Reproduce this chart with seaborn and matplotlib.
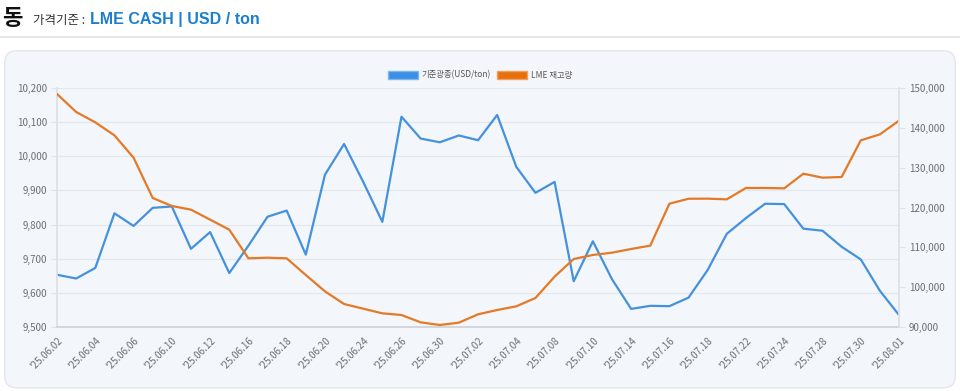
import matplotlib.pyplot as plt
import pandas as pd
import seaborn as sns
from matplotlib.patches import FancyBboxPatch, Patch
from matplotlib.lines import Line2D

DATES = [
    "25.06.02", "25.06.03", "25.06.04", "25.06.05", "25.06.06",
    "25.06.09", "25.06.10", "25.06.11", "25.06.12", "25.06.13",
    "25.06.16", "25.06.17", "25.06.18", "25.06.19", "25.06.20",
    "25.06.23", "25.06.24", "25.06.25", "25.06.26", "25.06.27",
    "25.06.30", "25.07.01", "25.07.02", "25.07.03", "25.07.04",
    "25.07.07", "25.07.08", "25.07.09", "25.07.10", "25.07.11",
    "25.07.14", "25.07.15", "25.07.16", "25.07.17", "25.07.18",
    "25.07.21", "25.07.22", "25.07.23", "25.07.24", "25.07.25",
    "25.07.28", "25.07.29", "25.07.30", "25.07.31", "25.08.01",
]
PRICE = [
    9653, 9642, 9673, 9833, 9796, 9849, 9853, 9729, 9778, 9658,
    9738, 9823, 9841, 9712, 9946, 10036, 9925, 9808, 10116, 10052,
    10041, 10061, 10047, 10121, 9969, 9893, 9925, 9634, 9751, 9640,
    9553, 9562, 9561, 9586, 9667, 9773, 9819, 9861, 9860, 9788,
    9782, 9735, 9698, 9606, 9535,
]
STOCK = [
    148500, 143980, 141380, 138120, 132510, 122390, 120380, 119460, 116950, 114440,
    107240, 107400, 107240, 103050, 98950, 95770, 94600, 93430, 93010, 91170,
    90500, 91090, 93180, 94270, 95190, 97280, 102640, 107070, 108080, 108660,
    109580, 110420, 120960, 122200, 122220, 122050, 124900, 124900, 124810, 128490,
    127490, 127660, 136860, 138370, 141800,
]
LABEL_PRICE = "기준광종(USD/ton)"
LABEL_STOCK = "LME 재고량"

BLUE = "#4592dc"
ORANGE = "#e47a27"
TICK_COLOR = "#6b6f75"

sns.set_theme(style="white")
plt.rcParams["font.family"] = ["Noto Sans CJK KR", "DejaVu Sans"]

df = pd.DataFrame({"date": DATES, "price": PRICE, "stock": STOCK})
df["i"] = range(len(df))

fig = plt.figure(figsize=(9.6, 3.91), dpi=100)
fig.patch.set_facecolor("white")

# header
fig.text(0.002, 0.952, "동", fontsize=16, fontweight="bold", color="#111111", va="center")
fig.text(0.034, 0.948, "가격기준 :", fontsize=9, color="#333333", va="center")
fig.text(0.094, 0.950, "LME CASH | USD / ton", fontsize=11.5, fontweight="bold",
         color="#1b7fcf", va="center", family=["Liberation Sans", "DejaVu Sans"])
fig.add_artist(Line2D([0, 1], [0.905, 0.905], color="#e2e4e8", lw=1.2))

# panel
panel = FancyBboxPatch((0.005, 0.008), 0.990, 0.862, boxstyle="round,pad=0,rounding_size=0.012",
                       transform=fig.transFigure, facecolor="#f3f6fa", edgecolor="#e3e7ec",
                       lw=1, zorder=0, mutation_aspect=2.4)
fig.add_artist(panel)

ax = fig.add_axes([0.0594, 0.1637, 0.8771, 0.6112])
ax.set_facecolor("none")
ax2 = ax.twinx()

sns.lineplot(data=df, x="i", y="price", ax=ax, color=BLUE, lw=1.6)
sns.lineplot(data=df, x="i", y="stock", ax=ax2, color=ORANGE, lw=1.6)

ax.set_xlim(0, len(df) - 1)
ax.set_ylim(9500, 10200)
ax2.set_ylim(90000, 150000)
ax.set_yticks(range(9500, 10201, 100))
ax2.set_yticks(range(90000, 150001, 10000))
ax.set_yticklabels([f"{v:,}" for v in range(9500, 10201, 100)])
ax2.set_yticklabels([f"{v:,}" for v in range(90000, 150001, 10000)])
ax.set_xticks(df["i"][::2])
ax.set_xticklabels(["'" + d for d in df["date"][::2]], rotation=45, ha="right",
                   rotation_mode="anchor")

ax.grid(axis="y", color="#e4e7eb", lw=0.9)
ax.set_axisbelow(True)
for a in (ax, ax2):
    a.set_xlabel("")
    a.set_ylabel("")
    for s in a.spines.values():
        s.set_visible(False)
    a.tick_params(axis="both", labelsize=7, colors=TICK_COLOR, length=4, width=0.8, pad=3)
ax.tick_params(axis="x", length=0, pad=6)
ax.tick_params(axis="y", color="#e0e3e8")
ax2.tick_params(axis="y", color="#e0e3e8")
ax.spines["left"].set_visible(True)
ax.spines["left"].set_color("#dde1e6")
ax.spines["bottom"].set_visible(True)
ax.spines["bottom"].set_color("#cfd3d8")
ax2.spines["right"].set_visible(True)
ax2.spines["right"].set_color("#dde1e6")
if ax.get_legend():
    ax.get_legend().remove()

handles = [Patch(facecolor="#3a8ee6", edgecolor="#7fb6ee", label=LABEL_PRICE),
           Patch(facecolor="#e8700a", edgecolor="#f0a060", label=LABEL_STOCK)]
fig.legend(handles=handles, loc="center", bbox_to_anchor=(0.5, 0.808), ncol=2, frameon=False,
           fontsize=6, handlelength=3.6, handleheight=1.1, handletextpad=0.45, columnspacing=0.8,
           labelcolor="#555555")

fig.savefig("out.png", dpi=100)
